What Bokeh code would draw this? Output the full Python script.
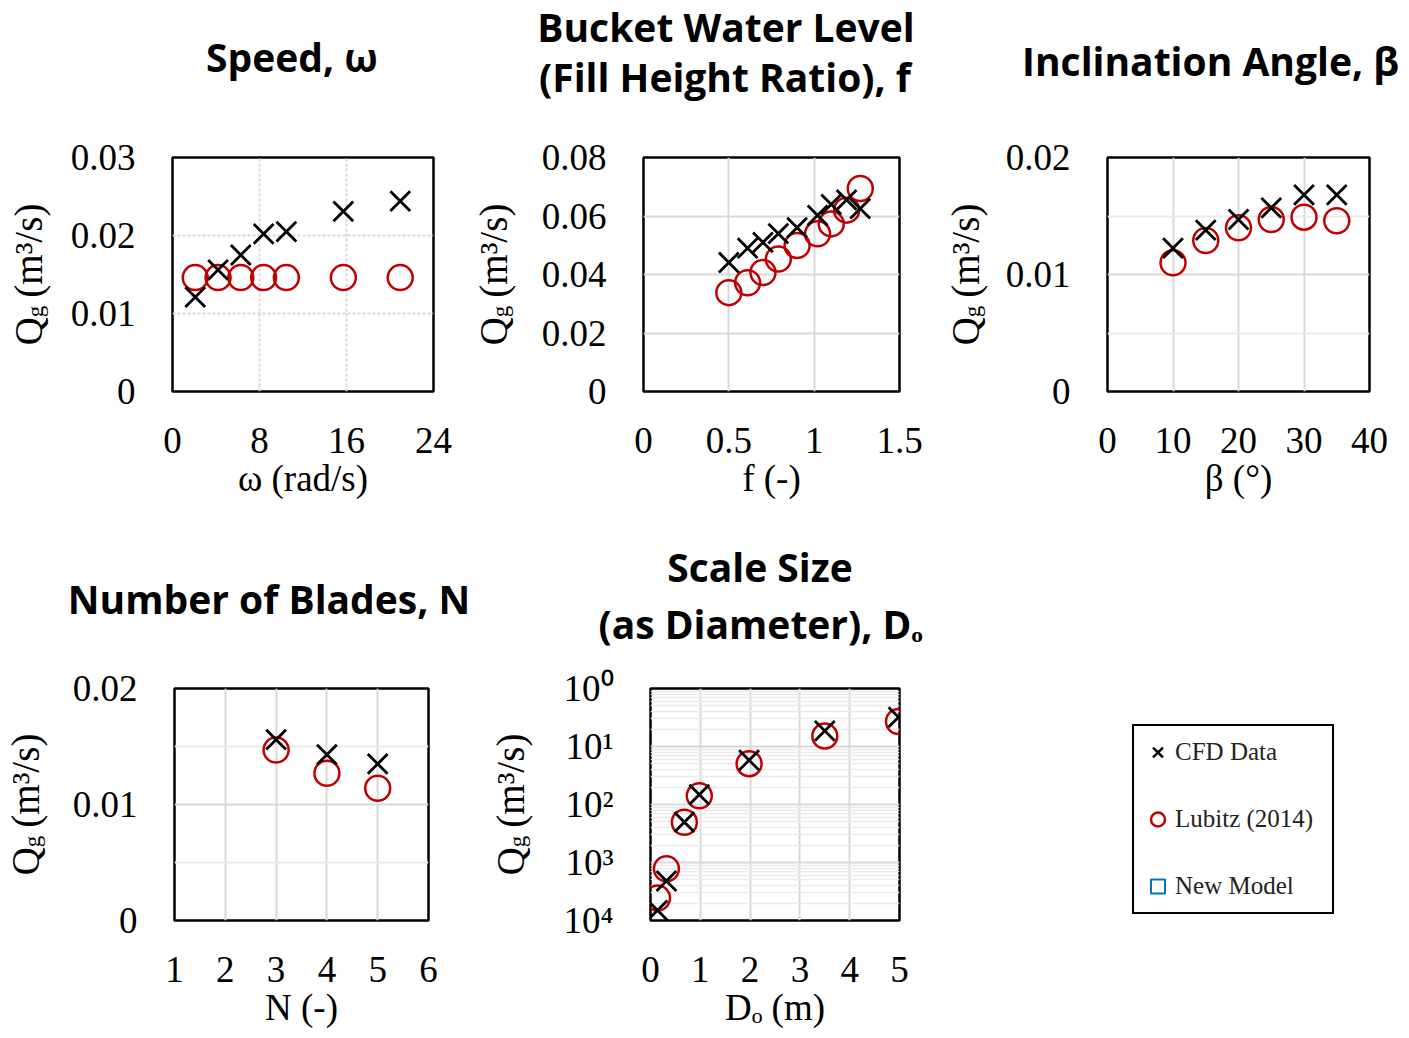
import math
import numpy as np
from bokeh.plotting import figure
from bokeh.models import Range1d, FixedTicker, CustomJSTickFormatter, Label, Legend, LegendItem
from bokeh.layouts import row, column
from bokeh.embed import file_html
from bokeh.resources import INLINE

# ---------------- data ----------------
omega = [2.09, 4.19, 6.28, 8.38, 10.47, 15.71, 20.94]
omega_cfd = [0.0121, 0.0156, 0.0175, 0.0202, 0.0205, 0.0231, 0.0244]
omega_lub = [0.0146, 0.0146, 0.0146, 0.0146, 0.0146, 0.0146, 0.0146]

fill = [0.50, 0.61, 0.70, 0.79, 0.90, 1.02, 1.10, 1.19, 1.27]
fill_cfd = [0.0441, 0.0490, 0.0510, 0.0540, 0.0560, 0.0602, 0.0640, 0.0655, 0.0625]
fill_lub = [0.0338, 0.0372, 0.0407, 0.0453, 0.0499, 0.0539, 0.0573, 0.0620, 0.0694]

beta = [10, 15, 20, 25, 30, 35]
beta_cfd = [0.01225, 0.0138, 0.0147, 0.0157, 0.0168, 0.0168]
beta_lub = [0.0110, 0.0129, 0.0140, 0.0147, 0.0149, 0.0146]

blades = [3, 4, 5]
blades_cfd = [0.0156, 0.0143, 0.0135]
blades_lub = [0.0147, 0.0127, 0.0114]

diam = [0.14, 0.32, 0.68, 0.98, 1.98, 3.5, 4.98]
diam_cfd = [1.5e-4, 4.8e-4, 4.95e-3, 1.48e-2, 5.8e-2, 0.186, 0.32]
diam_lub = [2.45e-4, 7.8e-4, 4.95e-3, 1.41e-2, 5.06e-2, 0.151, 0.269]

# ticks / labels
speed_xt = [0, 8, 16, 24];            speed_xl = ["0", "8", "16", "24"]
speed_yt = [0, 0.01, 0.02, 0.03];     speed_yl = ["0", "0.01", "0.02", "0.03"]
fill_xt = [0, 0.5, 1, 1.5];           fill_xl = ["0", "0.5", "1", "1.5"]
fill_yt = [0, 0.02, 0.04, 0.06, 0.08]; fill_yl = ["0", "0.02", "0.04", "0.06", "0.08"]
beta_xt = [0, 10, 20, 30, 40];        beta_xl = ["0", "10", "20", "30", "40"]
small_yt = [0, 0.01, 0.02];           small_yl = ["0", "0.01", "0.02"]
small_ym = [0.005, 0.015]
blades_xt = [1, 2, 3, 4, 5, 6];       blades_xl = ["1", "2", "3", "4", "5", "6"]
diam_xt = [0, 1, 2, 3, 4, 5];         diam_xl = ["0", "1", "2", "3", "4", "5"]
diam_yt = [1e-4, 1e-3, 1e-2, 1e-1, 1.0]
diam_yl = ["10\u2074", "10\u00b3", "10\u00b2", "10\u00b9", "10\u2070"]
diam_ym = [k * 10.0 ** d for d in range(-4, 0) for k in range(2, 10)]

titles = {
    "speed": ["Speed, \u03c9"],
    "fill": ["Bucket Water Level", "(Fill Height Ratio), f"],
    "beta": ["Inclination Angle, \u03b2"],
    "blades": ["Number of Blades, N"],
    "diam": ["Scale Size", "(as Diameter), D\u2092"],
}
xlabels = {
    "speed": "\u03c9 (rad/s)", "fill": "f (-)", "beta": "\u03b2 (\u00b0)",
    "blades": "N (-)", "diam": "D\u2092 (m)",
}
ylabel_parts = ["Q", "g", "(m\u00b3/s)"]
legend_labels = ["CFD Data", "Lubitz (2014)", "New Model"]

SERIF = "Liberation Serif"
SANS = "Open Sans"
RED = "#c00000"
BLUE = "#0070c0"
TICK_FS = "37px"
TITLE_FS = "39px"
BASELINE_FIX = 12   # Label anchor -> glyph baseline correction

# layout (pixels)
H1_H = 108                       # title band, row 1
R1_H, R1_T, R1_B = 412, 49, 129  # plots row 1
H2_H = 135                       # title band, row 2
R2_H, R2_T, R2_B = 379, 33, 114  # plots row 2


def fmt(ticks, labels):
    return CustomJSTickFormatter(args=dict(t=ticks, l=labels), code="""
        let b = 0, d = Infinity;
        for (let i = 0; i < t.length; i++) {
            const e = Math.abs(t[i] - tick);
            if (e < d) { d = e; b = i; }
        }
        return l[b];
    """)


def blank(w, h, t=0, b=0):
    f = figure(width=w, height=h, min_border_left=0, min_border_right=0,
               min_border_top=t, min_border_bottom=b,
               x_range=Range1d(0, w), y_range=Range1d(0, h - t - b),
               x_axis_location=None, y_axis_location=None,
               output_backend="svg", toolbar_location=None)
    f.grid.visible = False
    f.outline_line_color = None
    return f


def make(w, h, l, r, t, b, xr, yr, xt, xl, yt, yl, key, ym=None, log=False, grid_dash="solid"):
    p = figure(width=w, height=h, min_border_left=l, min_border_right=r,
               min_border_top=t, min_border_bottom=b,
               x_range=Range1d(*xr), y_range=Range1d(*yr),
               y_axis_type="log" if log else "linear",
               output_backend="svg", toolbar_location=None)
    p.xaxis.ticker = FixedTicker(ticks=xt)
    p.yaxis.ticker = FixedTicker(ticks=yt, minor_ticks=ym or [])
    p.xaxis.formatter = fmt(xt, xl)
    p.yaxis.formatter = fmt(yt, yl)
    for ax in (p.xaxis[0], p.yaxis[0]):
        ax.axis_line_color = None
        ax.major_tick_line_color = None
        ax.minor_tick_line_color = None
        ax.major_label_text_font = SERIF
        ax.major_label_text_font_size = TICK_FS
        ax.major_label_text_color = "black"
    p.xaxis.major_label_standoff = 30
    p.yaxis.major_label_standoff = 31
    p.xaxis.axis_label = xlabels[key]
    p.xaxis.axis_label_text_font = SERIF
    p.xaxis.axis_label_text_font_size = TICK_FS
    p.xaxis.axis_label_text_font_style = "normal"
    p.xaxis.axis_label_text_color = "black"
    p.xaxis.axis_label_standoff = 2
    p.grid.grid_line_color = "#d9d9d9"
    p.grid.grid_line_width = 2
    p.grid.grid_line_dash = grid_dash
    if ym:
        p.ygrid.minor_grid_line_color = "#ebebeb"
        p.ygrid.minor_grid_line_width = 1.5 if log else 2
    p.outline_line_color = "black"
    p.outline_line_width = 2.5
    p.outline_line_alpha = 1
    p.background_fill_color = "white"
    p.border_fill_color = "white"
    return p


def ylab_fig(w, h, t, b, left_px):
    """Rotated axis title Q_g (m^3/s), centred on the plot frame."""
    f = blank(w, h, t, b)
    fh = h - t - b
    q_len, g_len, gap, rest_len = 28.2, 11.5, 8.0, 94.0
    base = left_px + 13
    y0 = fh / 2 - (q_len + g_len + gap + rest_len) / 2
    f.add_layout(Label(x=base, y=y0, text=ylabel_parts[0], angle=math.pi / 2,
                       text_align="left", text_baseline="alphabetic", text_font=SERIF,
                       text_font_size="39px", text_color="black"))
    f.add_layout(Label(x=base + 7, y=y0 + q_len, text=ylabel_parts[1], angle=math.pi / 2,
                       text_align="left", text_baseline="alphabetic", text_font=SERIF,
                       text_font_size="23px", text_color="black"))
    f.add_layout(Label(x=base, y=y0 + q_len + g_len + gap, text=ylabel_parts[2], angle=math.pi / 2,
                       text_align="left", text_baseline="alphabetic", text_font=SERIF,
                       text_font_size="39px", text_color="black"))
    return f


def title_band(w, h, top, items):
    """items: (key, [(center_x, baseline_y), ...]) in page pixels."""
    f = blank(w, h)
    for key, pos in items:
        for txt, (cx, by) in zip(titles[key], pos):
            f.add_layout(Label(x=cx, y=h - (by - top) + BASELINE_FIX, text=txt,
                               text_align="center", text_baseline="alphabetic",
                               text_font=SANS, text_font_style="bold",
                               text_font_size=TITLE_FS, text_color="black"))
    return f


def add_points(p, xs, cfd, lub):
    p.scatter(xs, lub, marker="circle", size=25, fill_color=None,
              line_color=RED, line_width=2.5)
    p.scatter(xs, cfd, marker="x", size=28, line_color="black", line_width=2.8)


# ---- title band 1 ----
h1 = title_band(1407, H1_H, 0, [("speed", [(291.5, 68)]),
                                ("fill", [(725.5, 38), (724.5, 88)]),
                                ("beta", [(1210, 72)])])

# ---- row 1 ----
l1 = ylab_fig(60, R1_H, R1_T, R1_B, 15)
p1 = make(410, R1_H, 112, 37, R1_T, R1_B, (0, 24), (0, 0.03), speed_xt, speed_xl,
          speed_yt, speed_yl, "speed", grid_dash="3 2")
add_points(p1, omega, omega_cfd, omega_lub)

l2 = ylab_fig(60, R1_H, R1_T, R1_B, 10)
p2 = make(410, R1_H, 113, 41, R1_T, R1_B, (0, 1.5), (0, 0.08), fill_xt, fill_xl,
          fill_yt, fill_yl, "fill")
add_points(p2, fill, fill_cfd, fill_lub)

l3 = ylab_fig(60, R1_H, R1_T, R1_B, 12)
p3 = make(407, R1_H, 107, 38, R1_T, R1_B, (0, 40), (0, 0.02), beta_xt, beta_xl,
          small_yt, small_yl, "beta", ym=small_ym)
add_points(p3, beta, beta_cfd, beta_lub)

# ---- title band 2 ----
h2 = title_band(1400, H2_H, 520, [("blades", [(268.5, 610)]),
                                  ("diam", [(759.5, 578), (760, 635)])])

# ---- row 2 ----
l4 = ylab_fig(60, R2_H, R2_T, R2_B, 12)
p4 = make(410, R2_H, 114, 42, R2_T, R2_B, (1, 6), (0, 0.02), blades_xt, blades_xl,
          small_yt, small_yl, "blades", ym=small_ym)
add_points(p4, blades, blades_cfd, blades_lub)

l5 = ylab_fig(75, R2_H, R2_T, R2_B, 27)
p5 = make(395, R2_H, 105, 41, R2_T, R2_B, (0, 5), (1e-4, 1.0), diam_xt, diam_xl,
          diam_yt, diam_yl, "diam", ym=diam_ym, log=True)
add_points(p5, diam, diam_cfd, diam_lub)

# legend panel
p6 = blank(460, R2_H, R2_T, R2_B)
nan = np.array([np.nan])
r_cfd = p6.scatter(nan, nan, marker="x", line_color="black", line_width=2.5, size=14)
r_lub = p6.scatter(nan, nan, marker="circle", fill_color=None, line_color=RED, line_width=2.5, size=14)
r_new = p6.scatter(nan, nan, marker="square", fill_color=None, line_color=BLUE, line_width=2, size=14)
leg = Legend(items=[LegendItem(label=legend_labels[0], renderers=[r_cfd]),
                    LegendItem(label=legend_labels[1], renderers=[r_lub]),
                    LegendItem(label=legend_labels[2], renderers=[r_new])],
             location=(192, 6), orientation="vertical",
             glyph_width=35, glyph_height=40, label_standoff=0, padding=6, spacing=27,
             label_width=151, margin=0,
             border_line_color="black", border_line_width=2.5, border_line_alpha=1,
             label_text_font=SERIF, label_text_font_size="25px", label_text_color="#222222",
             background_fill_color="white", background_fill_alpha=1)
p6.add_layout(leg)

layout = column(row(h1),
                row(l1, p1, l2, p2, l3, p3, spacing=0),
                row(h2),
                row(l4, p4, l5, p5, p6, spacing=0), spacing=0)
open("out.html", "w").write(file_html(layout, INLINE))
